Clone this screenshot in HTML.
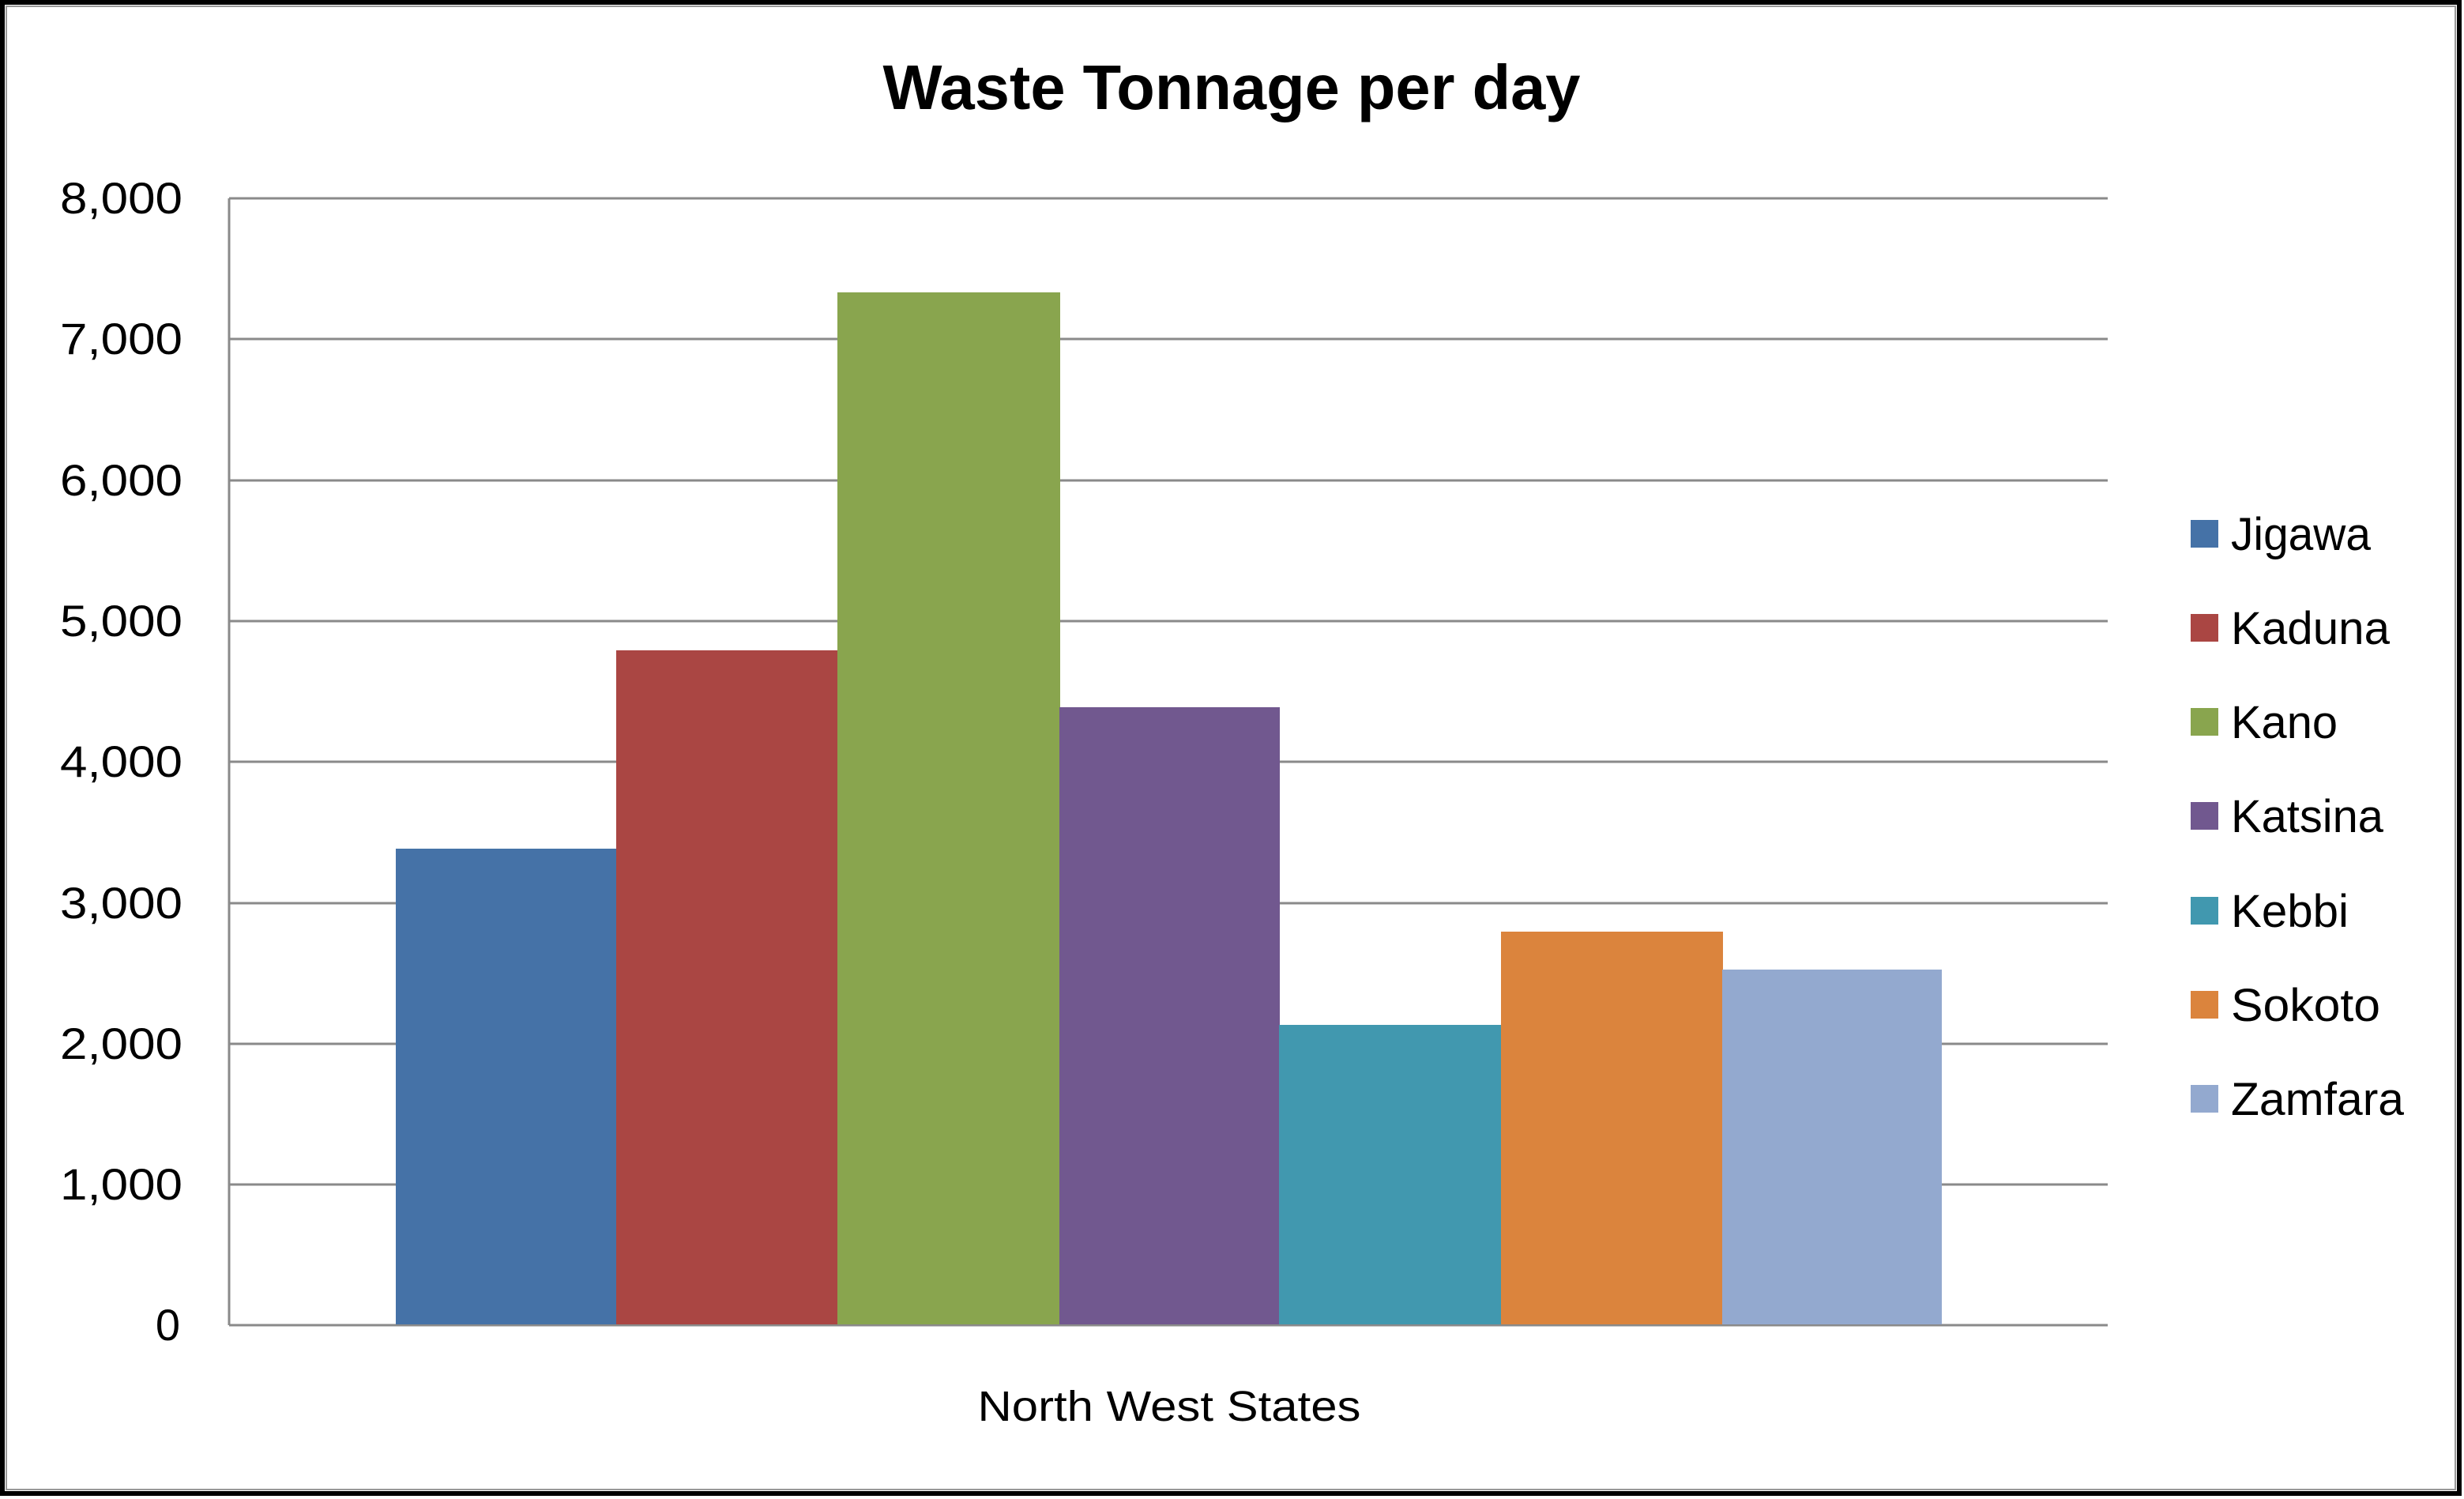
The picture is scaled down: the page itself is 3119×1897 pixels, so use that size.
<!DOCTYPE html>
<html><head><meta charset="utf-8"><style>
html,body{margin:0;padding:0;background:#fff;}
svg{display:block;}
text{font-family:"Liberation Sans",sans-serif;fill:#000;}
</style></head><body>
<svg width="3119" height="1897" viewBox="0 0 3119 1897" xmlns="http://www.w3.org/2000/svg">
<rect x="0" y="0" width="3119" height="1897" fill="#fff"/>
<rect x="3" y="3" width="3110" height="1887" fill="none" stroke="#000" stroke-width="6"/>
<rect x="8" y="8" width="3100" height="1877" fill="none" stroke="#999" stroke-width="2"/>
<text x="1559" y="138" font-size="80" font-weight="bold" text-anchor="middle" textLength="883" lengthAdjust="spacingAndGlyphs">Waste Tonnage per day</text>
<g stroke="#8a8a8a" stroke-width="3">
<line x1="290" y1="251" x2="2668" y2="251"/>
<line x1="290" y1="429" x2="2668" y2="429"/>
<line x1="290" y1="608" x2="2668" y2="608"/>
<line x1="290" y1="786" x2="2668" y2="786"/>
<line x1="290" y1="964" x2="2668" y2="964"/>
<line x1="290" y1="1143" x2="2668" y2="1143"/>
<line x1="290" y1="1321" x2="2668" y2="1321"/>
<line x1="290" y1="1499" x2="2668" y2="1499"/>
<line x1="290" y1="1677" x2="2668" y2="1677"/>
<line x1="290" y1="251" x2="290" y2="1677"/>
</g>
<rect x="501" y="1074" width="280" height="602" fill="#4572a7"/>
<rect x="780" y="823" width="281" height="853" fill="#aa4643"/>
<rect x="1060" y="370" width="282" height="1306" fill="#89a54e"/>
<rect x="1341" y="895" width="279" height="781" fill="#71588f"/>
<rect x="1619" y="1297" width="282" height="379" fill="#4198af"/>
<rect x="1900" y="1179" width="281" height="497" fill="#db843d"/>
<rect x="2180" y="1227" width="278" height="449" fill="#93a9cf"/>
<g font-size="56" text-anchor="end">
<text x="231" y="270" textLength="155" lengthAdjust="spacingAndGlyphs">8,000</text>
<text x="231" y="448" textLength="155" lengthAdjust="spacingAndGlyphs">7,000</text>
<text x="231" y="627" textLength="155" lengthAdjust="spacingAndGlyphs">6,000</text>
<text x="231" y="805" textLength="155" lengthAdjust="spacingAndGlyphs">5,000</text>
<text x="231" y="983" textLength="155" lengthAdjust="spacingAndGlyphs">4,000</text>
<text x="231" y="1162" textLength="155" lengthAdjust="spacingAndGlyphs">3,000</text>
<text x="231" y="1340" textLength="155" lengthAdjust="spacingAndGlyphs">2,000</text>
<text x="231" y="1518" textLength="155" lengthAdjust="spacingAndGlyphs">1,000</text>
<text x="228" y="1696">0</text>
</g>
<text x="1480" y="1798" font-size="54" text-anchor="middle" textLength="485" lengthAdjust="spacingAndGlyphs">North West States</text>
<g font-size="58">
<rect x="2773" y="658" width="35" height="35" fill="#4572a7"/><text x="2824" y="696" textLength="177" lengthAdjust="spacingAndGlyphs">Jigawa</text>
<rect x="2773" y="777" width="35" height="35" fill="#aa4643"/><text x="2824" y="815" textLength="201" lengthAdjust="spacingAndGlyphs">Kaduna</text>
<rect x="2773" y="896" width="35" height="35" fill="#89a54e"/><text x="2824" y="934" textLength="135" lengthAdjust="spacingAndGlyphs">Kano</text>
<rect x="2773" y="1015" width="35" height="35" fill="#71588f"/><text x="2824" y="1053" textLength="193" lengthAdjust="spacingAndGlyphs">Katsina</text>
<rect x="2773" y="1135" width="35" height="35" fill="#4198af"/><text x="2824" y="1173" textLength="149" lengthAdjust="spacingAndGlyphs">Kebbi</text>
<rect x="2773" y="1254" width="35" height="35" fill="#db843d"/><text x="2824" y="1292" textLength="189" lengthAdjust="spacingAndGlyphs">Sokoto</text>
<rect x="2773" y="1373" width="35" height="35" fill="#93a9cf"/><text x="2824" y="1411" textLength="219" lengthAdjust="spacingAndGlyphs">Zamfara</text>
</g>
</svg>
</body></html>
